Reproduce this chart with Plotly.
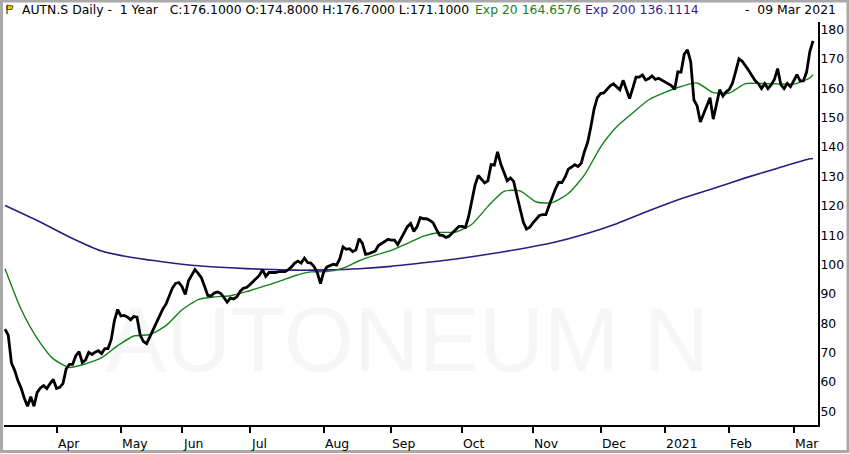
import pandas as pd
import plotly.graph_objects as go

# ---------------- data ----------------
holidays = ["2020-04-10", "2020-04-13", "2020-05-01", "2020-05-21", "2020-06-01",
            "2020-12-24", "2020-12-25", "2020-12-31", "2021-01-01"]
dates = pd.bdate_range("2020-03-10", "2021-03-09", freq="C", holidays=holidays)  # 252 trading days

close = [
    78.0, 76.0, 66.5, 64.0, 60.5, 58.0, 54.5, 51.8, 55.0, 51.8,
    56.5, 58.0, 58.8, 57.8, 59.5, 60.9, 57.8, 58.2, 59.5,
    64.5, 66.0, 66.0, 69.0, 70.4, 66.7, 67.5, 70.1, 69.4, 70.2,
    70.7, 69.7, 71.4, 71.4, 74.5, 81.0, 84.7, 82.5, 82.7, 82.2,
    81.2, 82.3, 82.1, 76.0, 73.8, 73.1, 75.5, 78.0, 80.5,
    82.5, 84.8, 86.5, 89.5, 92.0, 93.6, 93.9, 92.5, 89.8, 94.5,
    96.5, 98.3, 97.0, 95.5, 92.5, 89.5, 89.3, 90.3, 90.7, 90.2,
    88.8, 87.2, 88.6, 88.3, 89.0, 90.8, 91.9, 92.2, 93.1,
    94.1, 95.0, 96.3, 98.3, 96.0, 97.3, 97.3, 97.3, 97.6, 97.6,
    97.6, 98.3, 99.2, 100.5, 101.2, 100.5, 102.2, 100.7, 100.5, 99.3,
    97.3, 93.5, 97.5, 99.2, 99.7, 100.1, 99.8, 102.0, 106.0,
    105.2, 105.4, 104.4, 105.0, 108.8, 107.3, 103.5, 103.7, 104.2, 104.6,
    106.5, 107.3, 108.0, 108.6, 108.3, 108.3, 106.8, 108.9, 110.8, 112.9,
    114.0, 111.3, 112.9, 116.0, 115.6, 115.6, 115.0, 114.2, 112.0,
    110.0, 109.9, 109.2, 109.7, 110.8, 112.1, 113.0, 113.0, 112.6, 116.3,
    121.8, 127.0, 130.3, 128.9, 127.8, 128.5, 134.0, 133.8, 138.4,
    134.2, 131.5, 128.5, 129.5, 128.3, 123.5, 118.5, 114.5, 112.1, 112.7,
    114.2, 115.5, 116.7, 117.0, 117.0, 120.0, 123.0, 125.8, 128.0, 127.9,
    129.8, 132.5, 133.2, 134.0, 133.4, 134.5, 138.5, 141.6, 147.0,
    153.0, 156.8, 158.2, 158.4, 159.6, 160.8, 161.5, 160.6, 159.5, 162.7,
    159.2, 156.5, 160.0, 163.8, 163.8, 164.5, 162.8, 163.3, 164.2, 163.0,
    163.4, 162.8, 162.0, 161.5, 160.9, 159.6, 165.6, 165.5, 171.6,
    173.1, 169.0, 156.0, 154.0, 148.5, 151.5, 154.5, 156.8, 149.5, 154.8,
    159.5, 157.3, 158.8, 159.6, 161.8, 165.8, 170.0, 169.2, 167.8, 166.1,
    164.3, 162.6, 161.6, 159.9, 161.6, 159.9, 161.2, 163.0, 166.7,
    161.2, 159.9, 161.6, 160.5, 162.6, 164.6, 162.5, 162.5, 165.5, 172.5,
    176.1,
]

# Exp 20 read every 5th trading day, plus the last day
ema20 = [
    98.6, 84.8, 74.9, 67.9, 65.0, 66.2, 68.3, 72.4, 75.7, 76.2,
    79.2, 84.6, 88.1, 89.0, 89.4, 90.8, 92.5, 94.2, 96.2, 97.5,
    97.6, 98.8, 101.3, 103.2, 104.8, 107.2, 109.7, 110.9, 111.1, 113.7,
    119.8, 124.9, 125.1, 121.3, 121.1, 124.2, 130.5, 140.0, 146.9, 151.6,
    156.1, 158.6, 160.6, 161.8, 158.5, 158.4, 161.6, 161.6, 161.5, 161.4,
    163.5, 164.6576,
]
# Exp 200 read every 10th trading day, plus the last day
ema200 = [
    120.1, 115.0, 109.4, 104.6, 102.3, 100.8, 99.6, 98.9, 98.4, 98.1,
    98.2, 98.6, 99.4, 100.6, 101.9, 103.5, 105.3, 107.4, 110.3, 113.9,
    118.3, 122.4, 125.9, 129.5, 132.8, 136.0, 136.1114,
]

month_ticks = ["2020-04-01", "2020-05-04", "2020-06-02", "2020-07-01", "2020-08-03",
               "2020-09-01", "2020-10-01", "2020-11-02", "2020-12-01", "2021-01-04",
               "2021-02-01", "2021-03-01"]
month_labels = ["Apr", "May", "Jun", "Jul", "Aug", "Sep", "Oct", "Nov", "Dec",
                "2021", "Feb", "Mar"]
y_ticks = list(range(50, 181, 10))

watermark_text = "AUTONEUM N"
watermark_at = ("2020-09-08", 71.6)

# ---------------- layout helpers ----------------
W, H = 850, 454
L, R, T, B = 4, 32, 22, 29
PW, PH = W - L - R, H - T - B


def px(x):
    return (x - L) / PW


def py(y):
    return (H - B - y) / PH


FONT = "DejaVu Sans"
GREEN = "#13801a"
PURPLE = "#2d1b80"

ema20_x = list(dates[::5]) + [dates[-1]]
ema200_x = list(dates[::10]) + [dates[-1]]

fig = go.Figure()
# faint watermark drawn first so the lines sit on top of it
fig.add_trace(go.Scatter(x=[watermark_at[0]], y=[watermark_at[1]], mode="text",
                         text=[watermark_text], textposition="middle center",
                         textfont=dict(family="Liberation Sans", size=90, color="#f6f6f6"),
                         hoverinfo="skip", showlegend=False))
fig.add_trace(go.Scatter(x=ema200_x, y=ema200, mode="lines",
                         line=dict(color=PURPLE, width=1.6, shape="spline", smoothing=0.6),
                         hoverinfo="skip", showlegend=False))
fig.add_trace(go.Scatter(x=ema20_x, y=ema20, mode="lines",
                         line=dict(color=GREEN, width=1.4, shape="spline", smoothing=0.6),
                         hoverinfo="skip", showlegend=False))
fig.add_trace(go.Scatter(x=dates, y=close, mode="lines",
                         line=dict(color="#000000", width=2.8),
                         showlegend=False))

hdr_y = py(10)
ann = [
    (px(20), "AUTN.S Daily -\u00a0\u00a01 Year\u00a0\u00a0\u00a0C:176.1000 O:174.8000 H:176.7000 L:171.1000", "#000000"),
    (px(473), "Exp 20 164.6576", "#1e7d1e"),
    (px(583), "Exp 200 136.1114", "#3a1c8c"),
    (px(743), "-\u00a0\u00a009 Mar 2021", "#000000"),
]
annotations = []
for xx, txt, col in ann:
    annotations.append(dict(x=xx, y=hdr_y, xref="paper", yref="paper",
                            xanchor="left", yanchor="middle", showarrow=False,
                            text=txt, font=dict(family=FONT, size=12.4, color=col)))
# month labels start at their tick (left aligned), as in the reference
for d, lab in zip(month_ticks, month_labels):
    annotations.append(dict(x=d, y=py(443), xref="x", yref="paper",
                            xanchor="left", yanchor="middle", xshift=-1, showarrow=False,
                            text=lab, font=dict(family=FONT, size=12.4, color="black")))

shapes = [
    # outer grey frame
    dict(type="rect", xref="paper", yref="paper",
         x0=px(1.5), x1=px(848), y0=py(451.5), y1=py(1), line=dict(color="#a9a9a9", width=3),
         layer="below"),
    # flag icon
    dict(type="path", xref="paper", yref="paper",
         path=f"M {px(7)},{py(5)} L {px(13)},{py(6)} L {px(12)},{py(9.5)} L {px(7)},{py(9.5)} Z",
         fillcolor="#e6d200", line=dict(color="#6b5a00", width=1)),
    dict(type="line", xref="paper", yref="paper",
         x0=px(7), x1=px(7), y0=py(5), y1=py(14), line=dict(color="#4a4000", width=1.2)),
]

fig.update_layout(
    template="none",
    width=W, height=H,
    margin=dict(l=L, r=R, t=T, b=B, pad=0, autoexpand=False),
    paper_bgcolor="white", plot_bgcolor="white",
    showlegend=False,
    annotations=annotations,
    shapes=shapes,
    xaxis=dict(
        type="date",
        automargin=False,
        range=["2020-03-09 16:30", "2021-03-10 13:00"],
        rangebreaks=[dict(bounds=["sat", "mon"]), dict(values=holidays)],
        tickvals=month_ticks, ticktext=month_labels, showticklabels=False,
        ticks="outside", ticklen=6, tickwidth=2, tickcolor="black",
        showline=True, linecolor="black", linewidth=2,
        showgrid=False, zeroline=False,
        fixedrange=True,
    ),
    yaxis=dict(
        side="right",
        automargin=False,
        range=[45.4, 182.55],
        tickvals=y_ticks,
        ticks="", ticklen=0,
        ticklabelstandoff=-2,
        showline=True, linecolor="black", linewidth=2,
        showgrid=False, zeroline=False,
        tickfont=dict(family=FONT, size=12.4, color="black"),
        fixedrange=True,
    ),
)

fig.write_html(
    "out.html",
    config={"displayModeBar": False},
    post_script="document.body.style.margin='0';document.body.style.overflow='hidden';",
)
